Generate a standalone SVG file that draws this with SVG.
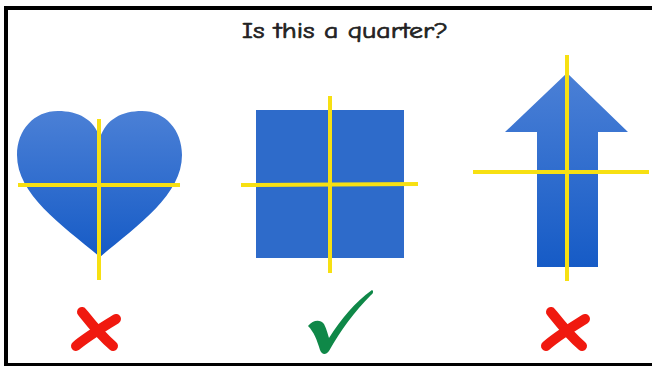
<svg xmlns="http://www.w3.org/2000/svg" width="652" height="366" viewBox="0 0 652 366">
<defs>
<linearGradient id="blue" x1="0" y1="0" x2="0" y2="1">
<stop offset="0" stop-color="#4b80d6"/>
<stop offset="1" stop-color="#165bc6"/>
</linearGradient>
</defs>
<style>
.shape{fill:url(#blue)}
.cut{stroke:#f7e012;stroke-width:4;fill:none}
.cross{stroke:#f0190f;fill:none;stroke-linecap:round}
.title{font-family:"Comic Neue","DejaVu Sans","Liberation Sans",sans-serif;font-size:23px;fill:#222;stroke:#222;stroke-width:0.7}
</style>
<rect width="652" height="366" fill="#fff"/>
<g id="frame" fill="none" stroke="#000">
<path d="M6,366 V8 H652" stroke-width="4"/>
<path d="M6,364.5 H652" stroke-width="3"/>
</g>
<g id="title"><text class="title" x="345" y="38" text-anchor="middle" textLength="206" lengthAdjust="spacingAndGlyphs">Is this a quarter?</text></g>
<g id="heart">
<path class="shape" d="M100,138 C94,119 78,111 58,111 C34,111 17,130 17,155 C17,195 62,225 100,257 C138,225 182,195 182,155 C182,130 165,111 142,111 C122,111 106,119 100,138 Z"/>
<line class="cut" x1="99" y1="119" x2="99" y2="280"/>
<line class="cut" x1="18" y1="185" x2="180" y2="185"/>
</g>
<g id="square">
<rect x="256" y="110" width="148" height="148" fill="#2e6bca"/>
<line class="cut" x1="330" y1="96" x2="330" y2="273"/>
<line class="cut" x1="241" y1="185" x2="418" y2="184"/>
</g>
<g id="arrow">
<polygon class="shape" points="567,73 628,132 598,132 598,267 537,267 537,132 505,132"/>
<line class="cut" x1="567" y1="55" x2="567" y2="281"/>
<line class="cut" x1="473" y1="172" x2="649" y2="172"/>
</g>
<g id="cross-left">
<path class="cross" stroke-width="10" d="M82,312 C90,322 100,335 113,346"/>
<path class="cross" stroke-width="10" d="M116,319 C105,326 88,336 76,346"/>
</g>
<g id="check">
<path fill="#0f8848" d="M308,326 C313,320 320,319 324,324 C327,330 328,335 329,338 C341,319 355,302 372,290 C374,291 373,294 371,295 C354,312 341,330 329,351 C326,355 322,355 320,350 C317,340 314,332 308,326 Z"/>
</g>
<g id="cross-right">
<path class="cross" stroke-width="10" d="M551,312 C559,322 569,335 582,346"/>
<path class="cross" stroke-width="10" d="M585,319 C574,326 557,336 546,346"/>
</g>
</svg>
